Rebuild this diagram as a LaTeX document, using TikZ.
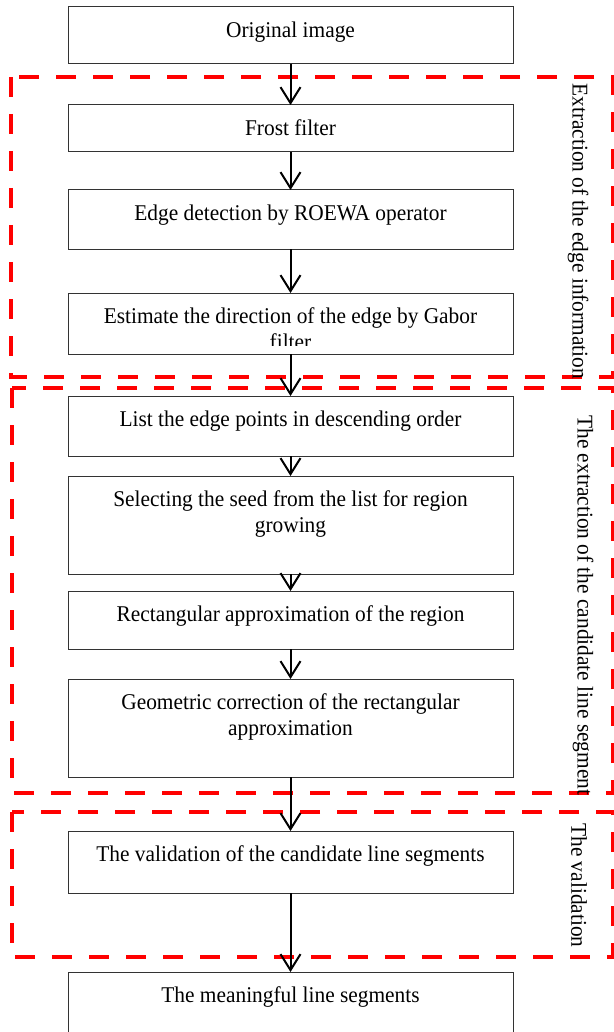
\documentclass[tikz,border=0pt]{standalone}
\usepackage{fontspec}
\setmainfont{Liberation Serif}[FakeStretch=0.95]
\usetikzlibrary{arrows.meta,positioning}

\tikzset{
  stepbox/.style={draw=black!80, line width=0.5pt, minimum width=222.5pt, inner sep=0pt, outer sep=0pt, anchor=north},
  steptext/.style={font=\fontsize{11.25pt}{13pt}\selectfont, align=center, inner sep=0pt, anchor=north},
  flow/.style={-{Straight Barb[length=8pt,width=10pt]}, line width=1pt},
  region/.style={draw=red, line width=2pt, dash pattern=on 10pt off 8.5pt},
  sidelabel/.style={font=\fontsize{11.25pt}{13pt}\selectfont, rotate=-90, anchor=west, inner sep=0pt}
}

\begin{document}
\begin{tikzpicture}[x=0.5pt, y=-0.5pt]
\useasboundingbox (0,0) rectangle (614,1032);

% the three dashed regions
\draw[region] (11,77) rectangle (613,377);
\draw[region] (12,388) rectangle (613,793);
\draw[region] (12,812) rectangle (613,957);

\node[sidelabel] (lab1) at (578,83) {Extraction of the edge information};
\node[sidelabel] (lab2) at (583,415) {The extraction of the candidate line segment};
\node[sidelabel] (lab3) at (579,823) {The validation};

% boxes
\node[stepbox, minimum height=28.5pt] (orig) at (290.5,7) {};
\node[stepbox, minimum height=23.5pt, below=20.5pt of orig] (frost) {};
\node[stepbox, minimum height=29.5pt, below=19pt of frost] (edgedet) {};
\node[stepbox, minimum height=30.5pt, below=22pt of edgedet] (gabor) {};
\node[stepbox, minimum height=30pt, below=21pt of gabor] (listpts) {};
\node[stepbox, minimum height=49pt, below=10pt of listpts] (seed) {};
\node[stepbox, minimum height=29pt, below=8.5pt of seed] (rectapp) {};
\node[stepbox, minimum height=49pt, below=15pt of rectapp] (geocorr) {};
\node[stepbox, minimum height=31pt, below=27pt of geocorr] (valid) {};
\node[stepbox, minimum height=40pt, below=39.5pt of valid] (meaning) {};

% texts
\node[steptext, below=7pt of orig.north] (orig-t) {Original image};
\node[steptext, below=7pt of frost.north] (frost-t) {Frost filter};
\node[steptext, below=7pt of edgedet.north] (edgedet-t) {Edge detection by ROEWA operator};
\begin{scope}
  \clip (68,293) rectangle (513,345);
  \node[steptext, below=7pt of gabor.north] (gabor-t) {Estimate the direction of the edge by Gabor\\filter};
\end{scope}
\node[steptext, below=7pt of listpts.north] (listpts-t) {List the edge points in descending order};
\node[steptext, below=7pt of seed.north] (seed-t) {Selecting the seed from the list for region\\growing};
\node[steptext, below=7pt of rectapp.north] (rectapp-t) {Rectangular approximation of the region};
\node[steptext, below=7pt of geocorr.north] (geocorr-t) {Geometric correction of the rectangular\\approximation};
\node[steptext, below=7pt of valid.north] (valid-t) {The validation of the candidate line segments};
\node[steptext, below=7pt of meaning.north] (meaning-t) {The meaningful line segments};

% arrows
\draw[flow] (orig) -- (frost);
\draw[flow] (frost) -- (edgedet);
\draw[flow] (edgedet) -- (gabor);
\draw[flow] (gabor) -- (listpts);
\draw[flow] (listpts) -- (seed);
\draw[flow] (seed) -- (rectapp);
\draw[flow] (rectapp) -- (geocorr);
\draw[flow] (geocorr) -- (valid);
\draw[flow] (valid) -- (meaning);
\end{tikzpicture}
\end{document}
